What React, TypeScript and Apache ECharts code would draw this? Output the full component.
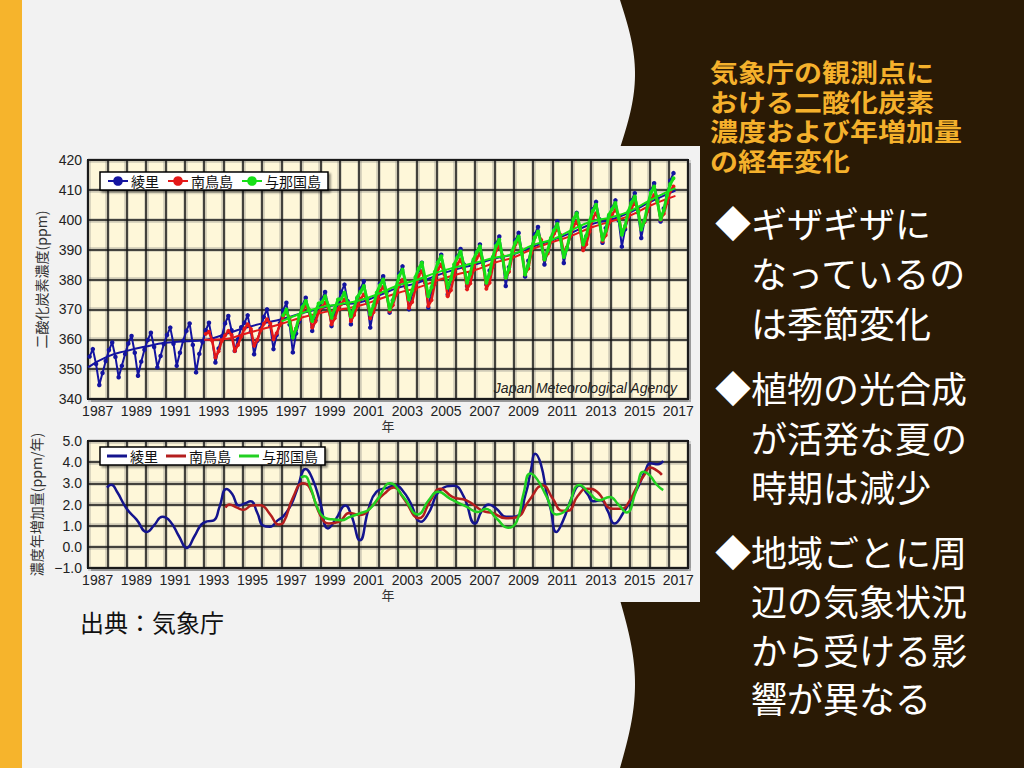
import React, { useEffect, useRef } from 'react';
import * as echarts from 'echarts';

// ---------- tick labels ----------
const yearLabels = ['1987','1988','1989','1990','1991','1992','1993','1994','1995','1996','1997','1998','1999','2000','2001','2002','2003','2004','2005','2006','2007','2008','2009','2010','2011','2012','2013','2014','2015','2016','2017'];

// ---------- CO2 concentration, bi-monthly (Feb, Apr, Jun, Aug, Oct, Dec) ----------
const ryoriStart = 1987;
const ryoriCO2 = [
  354.2, 356.7, 351.7, 344.7, 348.7, 352.7,
  356.4, 358.9, 354.1, 347.3, 351.1, 355.1,
  358.6, 361.1, 355.5, 347.8, 352.5, 356.5,
  359.7, 362.2, 357.4, 350.6, 354.4, 358.4,
  361.4, 363.9, 358.5, 351.1, 355.5, 359.5,
  362.8, 365.3, 358.1, 348.9, 355.1, 359.1,
  363.0, 365.5, 359.9, 352.2, 356.9, 360.9,
  365.3, 367.8, 363.0, 356.1, 360.0, 364.0,
  365.5, 368.0, 362.5, 355.0, 359.5, 363.5,
  367.5, 370.0, 364.4, 356.7, 361.4, 365.4,
  369.7, 372.2, 364.9, 355.6, 361.9, 365.9,
  371.4, 373.9, 369.4, 362.8, 366.4, 370.4,
  373.3, 375.8, 371.1, 364.4, 368.1, 372.1,
  375.8, 378.3, 372.7, 365.0, 369.7, 373.7,
  376.9, 379.4, 372.7, 363.9, 369.7, 373.7,
  378.6, 381.1, 376.0, 368.9, 373.0, 377.0,
  381.9, 384.4, 378.2, 370.0, 375.2, 379.2,
  383.1, 385.6, 379.1, 370.6, 376.1, 380.1,
  385.8, 388.3, 382.7, 375.0, 379.7, 383.7,
  387.7, 390.2, 385.0, 377.8, 382.0, 386.0,
  389.2, 391.7, 386.0, 378.3, 383.0, 387.0,
  391.9, 394.4, 387.1, 377.8, 384.1, 388.1,
  393.1, 395.6, 389.3, 381.0, 386.3, 390.3,
  395.1, 397.6, 392.3, 385.0, 389.3, 393.3,
  396.9, 399.4, 393.5, 385.5, 390.5, 394.5,
  399.8, 402.3, 397.5, 390.6, 394.5, 398.5,
  403.5, 406.0, 400.2, 392.3, 397.2, 401.2,
  404.0, 406.5, 399.8, 391.0, 396.8, 400.8,
  406.4, 408.9, 402.4, 393.9, 399.4, 403.4,
  409.7, 412.2, 406.8, 399.4, 403.8, 407.8,
  413.1, 415.6,
];

const minamiStart = 1993;
const minamiCO2 = [
  361.8, 362.5, 359.5, 353.9, 356.0, 359.5,
  361.3, 362.8, 361.4, 356.1, 358.1, 360.9,
  363.5, 365.0, 363.4, 357.8, 359.8, 362.9,
  365.2, 366.7, 365.3, 360.0, 362.0, 364.8,
  367.5, 369.0, 367.2, 361.5, 363.5, 366.7,
  369.6, 371.1, 369.5, 363.9, 365.9, 369.0,
  370.7, 372.2, 370.6, 365.0, 367.0, 370.1,
  371.8, 373.3, 371.7, 366.1, 368.1, 371.2,
  373.5, 375.0, 373.0, 367.0, 369.0, 372.5,
  376.0, 377.5, 375.4, 369.4, 371.4, 374.9,
  378.3, 379.8, 377.2, 370.5, 372.5, 376.7,
  381.3, 382.8, 379.0, 371.1, 373.1, 378.5,
  383.5, 385.0, 381.7, 374.4, 376.4, 381.2,
  385.2, 386.7, 383.7, 376.7, 378.7, 383.2,
  387.2, 388.7, 384.8, 376.9, 378.9, 384.3,
  389.8, 391.3, 388.0, 380.6, 382.6, 387.5,
  391.8, 393.3, 389.5, 381.7, 383.7, 389.0,
  394.1, 395.6, 393.2, 386.7, 388.7, 392.7,
  395.4, 396.9, 394.9, 388.9, 390.9, 394.4,
  397.9, 399.4, 396.6, 389.8, 391.8, 396.1,
  400.7, 402.2, 399.5, 392.8, 394.8, 399.0,
  401.8, 403.3, 401.4, 395.6, 397.6, 401.0,
  404.1, 405.6, 403.4, 397.2, 399.2, 402.9,
  406.8, 408.3, 406.2, 400.0, 402.0, 405.7,
  409.6, 411.1,
];

const yonaguniStart = 1997;
const yonaguniCO2 = [
  368.0, 370.0, 365.8, 360.6, 363.6, 367.8,
  370.8, 372.8, 370.0, 366.1, 369.1, 372.0,
  372.4, 374.4, 371.3, 367.2, 370.2, 373.3,
  373.6, 375.6, 372.1, 367.6, 370.6, 374.1,
  375.8, 377.8, 373.6, 368.3, 371.3, 375.6,
  378.0, 380.0, 375.5, 370.0, 373.0, 377.5,
  381.3, 383.3, 378.8, 373.3, 376.3, 380.8,
  383.6, 385.6, 380.5, 374.4, 377.4, 382.5,
  385.8, 387.8, 383.0, 377.2, 380.2, 385.0,
  387.4, 389.4, 384.7, 378.9, 381.9, 386.7,
  389.1, 391.1, 385.5, 378.9, 381.9, 387.5,
  391.3, 393.3, 387.5, 380.6, 383.6, 389.5,
  392.4, 394.4, 388.6, 381.7, 384.7, 390.6,
  394.1, 396.1, 391.9, 386.7, 389.7, 393.9,
  396.6, 398.6, 393.6, 387.5, 390.5, 395.6,
  400.2, 402.2, 397.5, 391.7, 394.7, 399.5,
  403.0, 405.0, 399.7, 393.3, 396.3, 401.7,
  403.6, 405.6, 400.8, 395.0, 398.0, 402.8,
  405.8, 407.8, 402.8, 396.7, 399.7, 404.8,
  409.1, 411.1, 406.2, 400.2, 403.2, 408.2,
  411.9, 413.9,
];

// ---------- deseasonalized trends [year, ppm] ----------
const ryoriTrend = [[1987, 350.6], [1988, 354.2], [1989, 356.1], [1990, 357.6], [1991, 358.8], [1992, 359.3], [1993, 359.7], [1994, 361.5], [1995, 363.6], [1996, 365.3], [1997, 366.7], [1998, 368.6], [1999, 370.3], [2000, 371.6], [2001, 372.3], [2002, 374.6], [2003, 377.2], [2004, 378.8], [2005, 381.3], [2006, 383.4], [2007, 385.0], [2008, 387.0], [2009, 388.5], [2010, 391.0], [2011, 393.2], [2012, 395.7], [2013, 398.5], [2014, 400.0], [2015, 402.5], [2016, 405.8], [2017, 408.8], [2017.35, 409.8]];
const minamiTrend = [[1993, 359.8], [1994, 360.0], [1995, 361.6], [1996, 363.4], [1997, 365.2], [1998, 367.2], [1999, 368.8], [2000, 369.9], [2001, 371.2], [2002, 373.3], [2003, 375.5], [2004, 377.2], [2005, 379.6], [2006, 381.6], [2007, 383.2], [2008, 385.6], [2009, 387.4], [2010, 390.3], [2011, 392.5], [2012, 394.7], [2013, 397.4], [2014, 399.4], [2015, 401.4], [2016, 404.6], [2017, 407.2], [2017.35, 408.0]];
const yonaguniTrend = [[1997, 366.0], [1998, 368.6], [1999, 370.6], [2000, 371.7], [2001, 373.0], [2002, 375.2], [2003, 378.0], [2004, 379.9], [2005, 382.3], [2006, 384.1], [2007, 385.6], [2008, 387.3], [2009, 388.6], [2010, 391.6], [2011, 393.4], [2012, 396.6], [2013, 399.4], [2014, 400.8], [2015, 402.9], [2016, 406.4], [2017, 409.6], [2017.35, 410.6]];

// ---------- annual growth rate [year, ppm/yr] ----------
const ryoriGrowth = [[1987.98, 2.8], [1988.2, 2.93], [1988.5, 2.6], [1989.0, 1.8], [1989.5, 1.3], [1990.05, 0.7], [1990.4, 1.0], [1990.85, 1.42], [1991.25, 1.2], [1991.7, 0.5], [1992.1, -0.05], [1992.5, 0.5], [1992.85, 1.05], [1993.15, 1.2], [1993.5, 1.25], [1993.8, 1.9], [1994.15, 2.73], [1994.45, 2.5], [1994.8, 1.95], [1995.1, 2.05], [1995.4, 2.15], [1995.75, 1.6], [1996.05, 1.0], [1996.4, 0.95], [1996.8, 1.25], [1997.1, 1.45], [1997.5, 2.0], [1997.8, 2.7], [1998.25, 3.68], [1998.6, 3.2], [1999.0, 2.1], [1999.4, 0.87], [1999.8, 1.3], [2000.3, 1.95], [2000.6, 1.5], [2001.05, 0.31], [2001.5, 1.8], [2001.9, 2.6], [2002.5, 2.8], [2002.9, 2.9], [2003.3, 2.6], [2003.65, 2.1], [2004.2, 1.18], [2004.6, 1.6], [2005.2, 2.68], [2005.9, 2.88], [2006.4, 2.4], [2007.0, 1.1], [2007.35, 1.7], [2007.7, 2.0], [2008.1, 1.8], [2008.6, 1.42], [2009.15, 1.45], [2009.6, 2.45], [2009.9, 3.7], [2010.1, 4.4], [2010.4, 3.9], [2010.7, 2.5], [2010.9, 1.8], [2011.2, 0.7], [2011.55, 1.25], [2012.05, 2.45], [2012.4, 2.9], [2012.8, 2.5], [2013.1, 2.15], [2013.5, 2.2], [2013.85, 1.7], [2014.2, 1.1], [2014.65, 1.6], [2015.35, 2.7], [2015.8, 3.6], [2016.05, 3.95], [2016.45, 3.9], [2016.72, 4.05]];
const minamiGrowth = [[1994.1, 1.85], [1994.3, 2.0], [1994.7, 1.85], [1995.05, 1.75], [1995.45, 1.95], [1995.9, 1.97], [1996.4, 1.55], [1996.85, 1.05], [1997.1, 1.15], [1997.6, 2.35], [1998.1, 3.0], [1998.45, 2.8], [1999.0, 1.5], [1999.45, 1.1], [2000.0, 1.2], [2000.5, 1.6], [2001.05, 1.5], [2001.7, 1.95], [2002.3, 2.5], [2002.8, 2.8], [2003.3, 2.3], [2004.1, 1.35], [2004.7, 2.2], [2005.2, 2.75], [2005.85, 2.35], [2006.55, 2.2], [2007.4, 1.7], [2007.9, 1.6], [2008.6, 1.35], [2009.15, 1.4], [2009.8, 2.2], [2010.5, 2.9], [2011.0, 2.3], [2011.5, 1.7], [2011.8, 1.7], [2012.3, 2.4], [2012.8, 2.75], [2013.3, 2.6], [2014.1, 1.8], [2014.6, 1.8], [2014.85, 1.97], [2015.4, 2.9], [2015.75, 3.4], [2016.05, 3.75], [2016.4, 3.6], [2016.65, 3.4]];
const yonaguniGrowth = [[1997.99, 3.27], [1998.2, 3.33], [1998.5, 2.8], [1998.8, 1.97], [1999.15, 1.42], [1999.6, 1.3], [2000.1, 1.26], [2000.5, 1.4], [2001.1, 1.6], [2001.5, 1.75], [2002.0, 2.3], [2002.6, 3.0], [2003.3, 2.35], [2004.05, 1.53], [2004.6, 2.2], [2005.1, 2.6], [2005.7, 2.28], [2006.55, 1.9], [2007.15, 1.65], [2007.55, 1.8], [2008.1, 1.35], [2008.7, 0.9], [2009.15, 1.2], [2009.5, 2.5], [2009.85, 3.47], [2010.2, 3.2], [2010.7, 2.36], [2011.2, 1.53], [2011.7, 1.75], [2012.4, 2.92], [2012.9, 2.55], [2013.4, 2.2], [2013.95, 2.36], [2014.4, 2.0], [2014.83, 1.62], [2015.3, 2.6], [2015.7, 3.55], [2016.0, 3.4], [2016.4, 2.92], [2016.72, 2.68]];

const stationNames = ['綾里', '南鳥島', '与那国島'];

const titleLines = ['気象庁の観測点に', 'おける二酸化炭素', '濃度および年増加量', 'の経年変化'];
const bulletLines = [
  { text: '◆ギザギザに', y: 222, indent: false },
  { text: 'なっているの', y: 272, indent: true },
  { text: 'は季節変化', y: 322, indent: true },
  { text: '◆植物の光合成', y: 387, indent: false },
  { text: 'が活発な夏の', y: 437, indent: true },
  { text: '時期は減少', y: 486, indent: true },
  { text: '◆地域ごとに周', y: 551, indent: false },
  { text: '辺の気象状況', y: 600, indent: true },
  { text: 'から受ける影', y: 649, indent: true },
  { text: '響が異なる', y: 697, indent: true },
];

const FONT = "'Liberation Sans', Arial, 'Noto Sans CJK JP', sans-serif";
const JP = "'Noto Sans CJK JP', sans-serif";

const BLUE = '#1414A0';
const RED = '#E41818';
const GREEN = '#16E016';
const BLUE2 = '#14148E';
const RED2 = '#B41E1E';
const GREEN2 = '#22D022';

function bimonthly(start: number, vals: number[]) {
  return vals.map((v, k) => [start + Math.floor(k / 6) + (2 * (k % 6) + 1) / 12, v]);
}

const mainSplit = { color: '#151515', width: 1.5 };
const haloSplit = { color: 'rgba(110,110,110,0.32)', width: 4.5 };

export default function App() {
  const ref = useRef<HTMLDivElement>(null);
  useEffect(() => {
    const chart = echarts.init(ref.current!, null, { renderer: 'svg' });

    const wave: number[][] = [[1024, 0]];
    for (let y = 0; y <= 148; y += 4) wave.push([620 + 15 * Math.sin((Math.PI * y) / 148), y]);
    for (let y = 600; y <= 768; y += 4) wave.push([620 + 15 * Math.sin((Math.PI * (y - 600)) / 168), y]);
    wave.push([1024, 768]);

    const graphics: any[] = [
      { type: 'rect', z: -20, shape: { x: 0, y: 0, width: 1024, height: 768 }, style: { fill: '#F2F2F2' } },
      { type: 'rect', z: -19, shape: { x: 0, y: 0, width: 22, height: 768 }, style: { fill: '#F6B42C' } },
      { type: 'polygon', z: -19, shape: { points: wave }, style: { fill: '#2A1A05' } },
      { type: 'rect', z: -18, shape: { x: 30, y: 146, width: 670, height: 456 }, style: { fill: '#F2F2F2' } },
      { type: 'rect', z: -17, shape: { x: 91, y: 163, width: 600, height: 239 }, style: { fill: 'rgba(0,0,0,0.3)' } },
      { type: 'rect', z: -17, shape: { x: 91, y: 444, width: 600, height: 127 }, style: { fill: 'rgba(0,0,0,0.3)' } },
      {
        type: 'text', x: 677, y: 388, z: 10,
        style: { text: 'Japan Meteorological Agency', fontSize: 14, fontStyle: 'italic', fontFamily: FONT, fill: '#222', align: 'right', verticalAlign: 'middle' },
      },
      {
        type: 'text', x: 80, y: 621,
        style: { text: '出典：気象庁', fontSize: 24, fontFamily: JP, fill: '#111', align: 'left', verticalAlign: 'middle' },
      },
    ];
    titleLines.forEach((t, i) => {
      graphics.push({
        type: 'text', x: 710, y: 71 + i * 29.7, scaleX: 1.12,
        style: { text: t, fontSize: 25, fontWeight: 'bold', fontFamily: JP, fill: '#F5B12C', align: 'left', verticalAlign: 'middle' },
      });
    });
    bulletLines.forEach((b) => {
      graphics.push({
        type: 'text', x: b.indent ? 751 : 715, y: b.y,
        style: { text: b.text, fontSize: 36, fontFamily: JP, fill: '#FFFFFF', align: 'left', verticalAlign: 'middle' },
      });
    });

    const legendBase = {
      left: 100,
      itemWidth: 20,
      itemGap: 8,
      padding: [2, 7],
      backgroundColor: '#FFFFFF',
      borderColor: '#000',
      borderWidth: 1.5,
      shadowColor: 'rgba(0,0,0,0.45)',
      shadowBlur: 2,
      shadowOffsetX: 2,
      shadowOffsetY: 2,
      selectedMode: false,
      textStyle: { fontSize: 14, color: '#111', fontFamily: JP, padding: [0, 0, 0, -2] },
    };

    const gridXAxis = (gridIndex: number, style: any, z: number) => ({
      type: 'value', gridIndex, min: 1987, max: 2018, interval: 1, position: 'bottom', z,
      axisLabel: { show: false }, axisTick: { show: false }, axisLine: { show: false },
      splitLine: { show: true, lineStyle: style },
    });
    const catXAxis = (gridIndex: number) => ({
      type: 'category', gridIndex, data: yearLabels, boundaryGap: true, position: 'bottom', z: 1,
      axisLabel: { interval: 1, fontSize: 14, color: '#222', fontFamily: FONT, margin: 5 },
      axisTick: { show: false }, axisLine: { show: false }, splitLine: { show: false },
      name: '年', nameLocation: 'middle', nameGap: 18,
      nameTextStyle: { fontSize: 13, color: '#333', fontFamily: JP },
    });
    const haloYAxis = (gridIndex: number, min: number, max: number, interval: number) => ({
      type: 'value', gridIndex, min, max, interval, z: 0,
      axisLabel: { show: false }, axisTick: { show: false }, axisLine: { show: false },
      splitLine: { show: true, lineStyle: haloSplit },
    });

    const gridBase = {
      left: 88, width: 600, show: true,
      backgroundColor: '#FEF7D9', borderColor: '#111', borderWidth: 2,
    };

    const option: any = {
      animation: false,
      graphic: graphics,
      grid: [
        { ...gridBase, top: 160, height: 239 },
        { ...gridBase, top: 441, height: 127 },
      ],
      legend: [
        { ...legendBase, top: 172, itemHeight: 12, data: stationNames },
        {
          ...legendBase, top: 447, itemHeight: 3,
          data: [
            { name: stationNames[0], icon: 'rect', itemStyle: { color: BLUE2 } },
            { name: stationNames[1], icon: 'rect', itemStyle: { color: RED2 } },
            { name: stationNames[2], icon: 'rect', itemStyle: { color: GREEN2 } },
          ],
        },
      ],
      xAxis: [
        gridXAxis(0, mainSplit, 1),
        catXAxis(0),
        gridXAxis(1, mainSplit, 1),
        catXAxis(1),
        gridXAxis(0, haloSplit, 0),
        gridXAxis(1, haloSplit, 0),
      ],
      yAxis: [
        {
          type: 'value', gridIndex: 0, min: 340, max: 420, interval: 10, z: 1,
          axisLabel: { fontSize: 14, color: '#222', fontFamily: FONT, margin: 6 },
          axisTick: { show: false }, axisLine: { show: false },
          splitLine: { show: true, lineStyle: mainSplit },
          name: '二酸化炭素濃度(ppm)', nameLocation: 'middle', nameGap: 34, nameRotate: 90,
          nameTextStyle: { fontSize: 14, color: '#333', fontFamily: JP },
        },
        {
          type: 'value', gridIndex: 1, min: -1, max: 5, interval: 1, z: 1,
          axisLabel: {
            fontSize: 14, color: '#222', fontFamily: FONT, margin: 6,
            formatter: (v: number) => (v < 0 ? '\u2212' + Math.abs(v).toFixed(1) : v.toFixed(1)),
          },
          axisTick: { show: false }, axisLine: { show: false },
          splitLine: { show: true, lineStyle: mainSplit },
          name: '濃度年増加量(ppm/年)', nameLocation: 'middle', nameGap: 34, nameRotate: 90,
          nameTextStyle: { fontSize: 14, color: '#333', fontFamily: JP },
        },
        haloYAxis(0, 340, 420, 10),
        haloYAxis(1, -1, 5, 1),
      ],
      series: [
        {
          type: 'line', name: stationNames[0], xAxisIndex: 0, yAxisIndex: 0, z: 3,
          data: bimonthly(ryoriStart, ryoriCO2), symbol: 'circle', symbolSize: 4.5, showAllSymbol: true,
          lineStyle: { color: BLUE, width: 2 }, itemStyle: { color: BLUE },
        },
        {
          type: 'line', name: stationNames[0], xAxisIndex: 0, yAxisIndex: 0, data: ryoriTrend, z: 3,
          smooth: true, symbol: 'none', lineStyle: { color: BLUE, width: 2 },
        },
        {
          type: 'line', name: stationNames[1], xAxisIndex: 0, yAxisIndex: 0, z: 4,
          data: bimonthly(minamiStart, minamiCO2), symbol: 'circle', symbolSize: 4, showAllSymbol: true,
          lineStyle: { color: RED, width: 2.5 }, itemStyle: { color: RED },
        },
        {
          type: 'line', name: stationNames[1], xAxisIndex: 0, yAxisIndex: 0, data: minamiTrend, z: 4,
          smooth: true, symbol: 'none', lineStyle: { color: RED, width: 2 },
        },
        {
          type: 'line', name: stationNames[2], xAxisIndex: 0, yAxisIndex: 0, z: 5,
          data: bimonthly(yonaguniStart, yonaguniCO2), symbol: 'circle', symbolSize: 4, showAllSymbol: true,
          lineStyle: { color: GREEN, width: 3 }, itemStyle: { color: GREEN },
        },
        {
          type: 'line', name: stationNames[2], xAxisIndex: 0, yAxisIndex: 0, data: yonaguniTrend, z: 5,
          smooth: true, symbol: 'none', lineStyle: { color: GREEN, width: 2 },
        },
        {
          type: 'line', name: stationNames[0], xAxisIndex: 2, yAxisIndex: 1, data: ryoriGrowth, z: 3,
          smooth: true, symbol: 'none', lineStyle: { color: BLUE2, width: 2.5 },
        },
        {
          type: 'line', name: stationNames[1], xAxisIndex: 2, yAxisIndex: 1, data: minamiGrowth, z: 3,
          smooth: true, symbol: 'none', lineStyle: { color: RED2, width: 2.5 },
        },
        {
          type: 'line', name: stationNames[2], xAxisIndex: 2, yAxisIndex: 1, data: yonaguniGrowth, z: 3,
          smooth: true, symbol: 'none', lineStyle: { color: GREEN2, width: 2.5 },
        },
      ],
    };
    chart.setOption(option);
    return () => chart.dispose();
  }, []);

  return (
    <div style={{ position: 'fixed', left: 0, top: 0, width: 1024, height: 768, background: '#F2F2F2' }}>
      <div ref={ref} style={{ width: 1024, height: 768 }} />
    </div>
  );
}
